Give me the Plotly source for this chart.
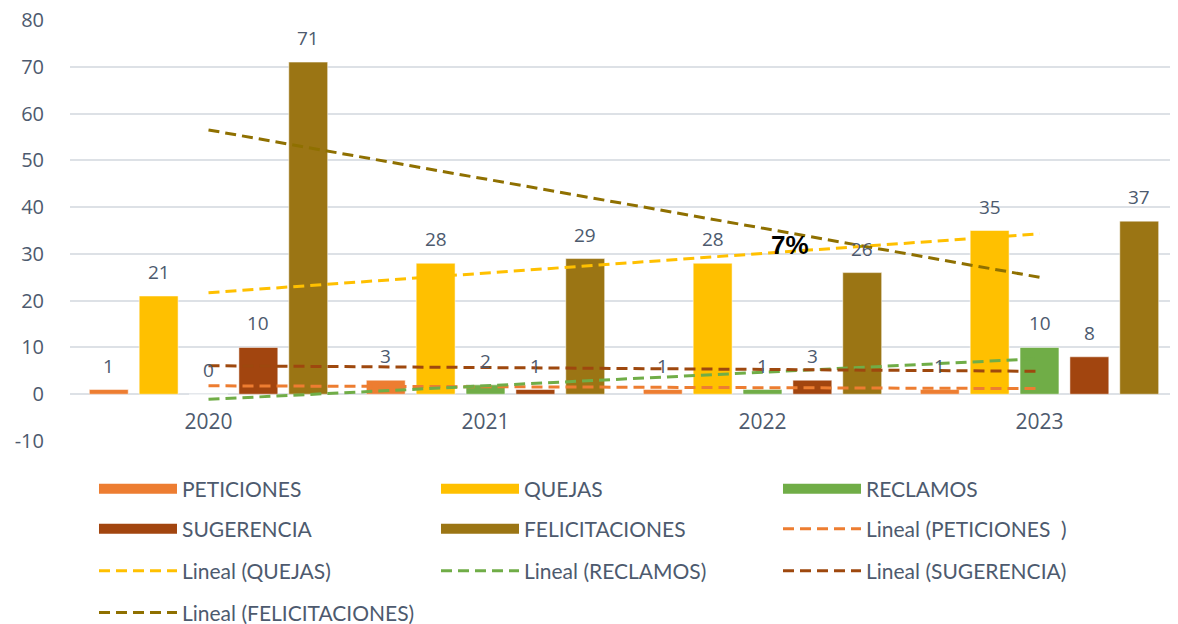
import numpy as np
import plotly.graph_objects as go

# datos
years = ['2020', '2021', '2022', '2023']
peticiones = [1, 3, 1, 1]
quejas = [21, 28, 28, 35]
reclamos = [0, 2, 1, 10]
sugerencia = [10, 1, 3, 8]
felicitaciones = [71, 29, 26, 37]
y_ticks = [-10, 0, 10, 20, 30, 40, 50, 60, 70, 80]
y_tick_text = ['-10', '0', '10', '20', '30', '40', '50', '60', '70', '80']

series = [
    ('PETICIONES', peticiones, '#ED7D31', 'Lineal (PETICIONES  )'),
    ('QUEJAS', quejas, '#FFC000', 'Lineal (QUEJAS)'),
    ('RECLAMOS', reclamos, '#70AD47', 'Lineal (RECLAMOS)'),
    ('SUGERENCIA', sugerencia, '#A2450F', 'Lineal (SUGERENCIA)'),
    ('FELICITACIONES', felicitaciones, '#9B7514', 'Lineal (FELICITACIONES)'),
]
trend_colors = ['#ED7D31', '#FFC000', '#70AD47', '#9E480E', '#8F7000']

label_color = '#4D5A6E'
font_family = 'Open Sans, Liberation Sans, sans-serif'
legend_font = 'Lato, Open Sans, sans-serif'

bargap = 0.1
n_series = len(series)
slot = (1 - bargap) / n_series  # ancho de cada barra dentro del grupo

# filas de la leyenda (3 columnas como en Excel)
legend_slots = ['legend', 'legend', 'legend',
                'legend2', 'legend2', 'legend2',
                'legend3', 'legend3', 'legend3',
                'legend4']

fig = go.Figure()
idx = np.arange(len(years))

# barras
for i, (name, vals, color, _) in enumerate(series):
    fig.add_trace(go.Bar(
        x=years, y=vals, name=name,
        marker=dict(color=color, line=dict(color='rgba(255,255,255,0.5)', width=1)),
        showlegend=False, legendgroup=name,
    ))
    # etiquetas de datos sobre cada barra
    offset = (i - (n_series - 1) / 2) * slot
    for k, v in enumerate(vals):
        fig.add_annotation(
            x=idx[k] + offset, y=v, xref='x', yref='y', text=str(v),
            showarrow=False, yanchor='middle', yshift=24,
            font=dict(color=label_color, size=19, family=font_family),
        )
    # entrada de leyenda con rectángulo ancho
    fig.add_trace(go.Scatter(
        x=[None], y=[None], mode='lines', name=name,
        line=dict(color=color, width=14),
        legendgroup=name, legend=legend_slots[i],
    ))

# líneas de tendencia lineal (como Excel)
for j, (name, vals, color, tname) in enumerate(series):
    slope, intercept = np.polyfit(idx, vals, 1)
    fig.add_trace(go.Scatter(
        x=years, y=slope * idx + intercept, mode='lines', name=tname,
        line=dict(color=trend_colors[j], width=3, dash='11px,6px'),
        legend=legend_slots[5 + j], hoverinfo='skip',
    ))

fig.add_annotation(
    x=2.1, y=32, xref='x', yref='y', text='<b>7%</b>', showarrow=False,
    font=dict(size=26, color='black', family='Liberation Sans, Arial, sans-serif'),
)

legend_common = dict(
    orientation='h', xref='container', yref='container',
    xanchor='left', yanchor='middle', x=0.0735,
    entrywidth=249, entrywidthmode='pixels', itemwidth=78,
    font=dict(size=21, color=label_color, family=legend_font),
    bgcolor='rgba(0,0,0,0)', traceorder='normal',
)

fig.update_layout(
    width=1170, height=616,
    margin=dict(l=62, r=0, t=12, b=183, autoexpand=False),
    plot_bgcolor='white', paper_bgcolor='white',
    barmode='group', bargap=bargap, bargroupgap=0.22,
    font=dict(family=font_family, size=18, color=label_color),
    legend=dict(legend_common, y=0.219),
    legend2=dict(legend_common, y=0.154),
    legend3=dict(legend_common, y=0.086),
    legend4=dict(legend_common, y=0.018),
)

fig.update_xaxes(
    type='category', categoryorder='array', categoryarray=years,
    anchor='free', position=0.1116, automargin=False,
    showline=False, showgrid=False, ticks='', ticklabelstandoff=13,
    tickfont=dict(size=21, color=label_color),
)
fig.update_yaxes(
    range=[-10, 80], tickvals=y_ticks, ticktext=y_tick_text,
    showgrid=True, gridcolor='#DDE1E6', gridwidth=1.5,
    zeroline=False, showline=False, ticks='', ticklabelstandoff=25,
    ticklabeloverflow='allow', automargin=False,
    tickfont=dict(size=20, color=label_color),
)

fig.write_html("out.html")
